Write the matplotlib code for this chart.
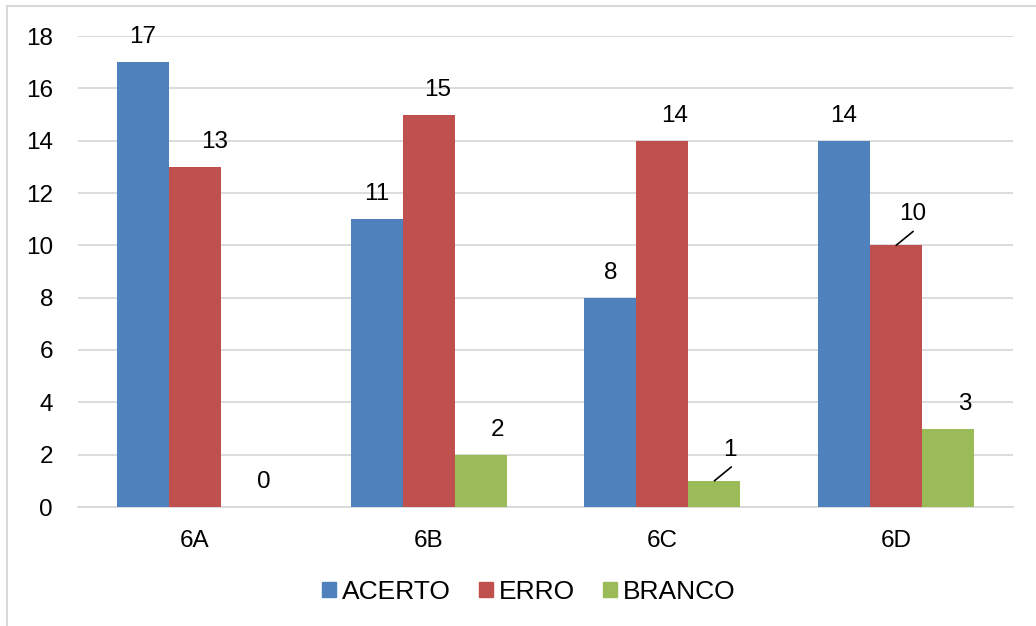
import numpy as np
from matplotlib import pyplot as plt
from matplotlib.lines import Line2D
from matplotlib.patches import Patch

plt.rcParams['font.family'] = ['Liberation Sans', 'DejaVu Sans']

turmas = ['6A', '6B', '6C', '6D']
acerto = [17, 11, 8, 14]
erro = [13, 15, 14, 10]
branco = [0, 2, 1, 3]

series = [
    ('ACERTO', acerto, '#4F81BD'),
    ('ERRO', erro, '#C0504D'),
    ('BRANCO', branco, '#9BBB59'),
]

# horizontal nudge of each value label, in points (one row per series)
label_dx = [
    [0, 0, 0, 0],
    [14.4, 6.3, 8.6, 12.2],
    [12.5, 12.2, 11.5, 12.2],
]
# labels that sit off to the side with a short leader line: (serie, turma)
leader_labels = {(1, 3), (2, 2)}

fig = plt.figure(figsize=(10.36, 6.26), dpi=100)
ax = fig.add_axes([78 / 1036, 1 - 507 / 626, 935 / 1036, 471 / 626])

x = np.arange(len(turmas))
width = 0.2225
fs = 17.5

for i, (name, values, color) in enumerate(series):
    pos = x + (i - 1) * width
    ax.bar(pos, values, width, color=color, label=name, zorder=3)
    for j, (xp, v) in enumerate(zip(pos, values)):
        dx = label_dx[i][j]
        if (i, j) in leader_labels:
            ax.annotate(str(v), xy=(xp, v), xytext=(dx, 22.5),
                        textcoords='offset points', ha='center', va='center',
                        fontsize=fs, zorder=4)
            # leader line from the bar top up towards the label
            ax.annotate('', xy=(xp, v), xytext=(12.2, 10),
                        textcoords='offset points', zorder=4,
                        arrowprops=dict(arrowstyle='-', color='black', lw=1.2,
                                        shrinkA=0, shrinkB=0))
        else:
            ax.annotate(str(v), xy=(xp, v), xytext=(dx, 18),
                        textcoords='offset points', ha='center', va='center',
                        fontsize=fs, zorder=4)

ax.set_xlim(-0.5, len(turmas) - 0.5)
ax.set_ylim(0, 18)
ax.set_yticks(range(0, 19, 2))
ax.set_xticks(x)
ax.set_xticklabels(turmas)
ax.tick_params(axis='both', length=0, labelsize=fs)
ax.tick_params(axis='y', pad=18)
ax.tick_params(axis='x', pad=16.5)
ax.grid(axis='y', color='#D9D9D9', lw=1.3, zorder=0)
for side in ['left', 'right', 'top']:
    ax.spines[side].set_visible(False)
ax.spines['bottom'].set_color('#D9D9D9')
ax.spines['bottom'].set_linewidth(1.3)

handles = [Patch(color=c, label=n) for n, _, c in series]
fig.legend(handles=handles, loc='center', bbox_to_anchor=(529 / 1036, 1 - 592 / 626),
           ncol=3, frameon=False, fontsize=19, handlelength=0.53, handleheight=0.53,
           handletextpad=0.23, columnspacing=1.06)

# outer chart frame (only top and left edges fall inside the image)
fx, fy = 7 / 1036, 1 - 6 / 626
fig.add_artist(Line2D([fx, fx], [0, fy], color='#D9D9D9', lw=1.5))
fig.add_artist(Line2D([fx, 1], [fy, fy], color='#D9D9D9', lw=1.5))

fig.savefig('out.png', dpi=100)
